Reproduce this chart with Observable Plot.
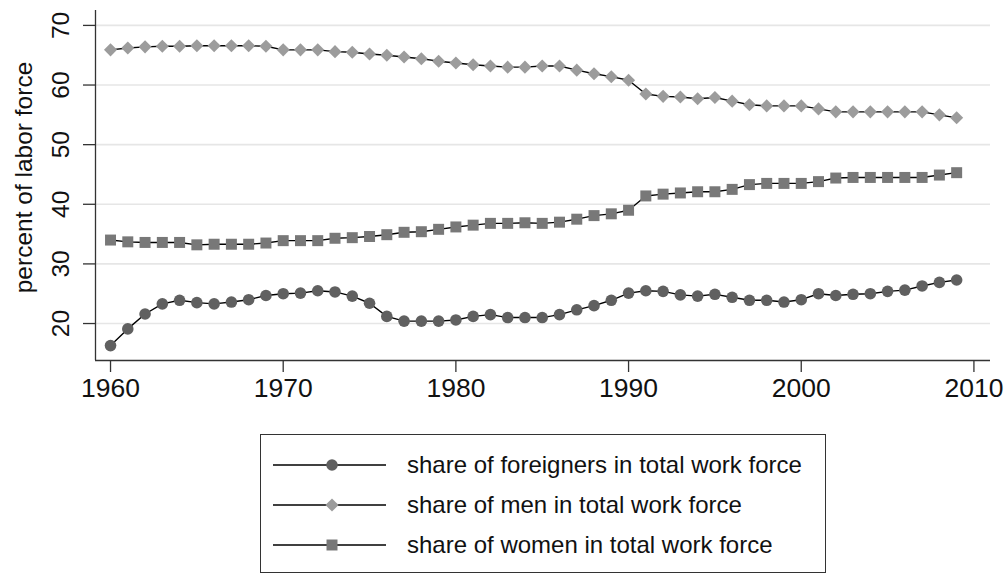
<!DOCTYPE html>
<html>
<head>
<meta charset="utf-8">
<script src="https://cdn.jsdelivr.net/npm/d3@7"></script>
<script src="https://cdn.jsdelivr.net/npm/@observablehq/plot@0.6"></script>
<style>
  html, body { margin: 0; padding: 0; background: #fff; }
  #wrap { position: relative; width: 1004px; height: 574px; overflow: hidden; font-family: "Liberation Sans", Arial, Helvetica, sans-serif; }
  #chart { position: absolute; left: 0; top: 0; }
  #legend { position: absolute; left: 260px; top: 434px; width: 564px; height: 137px; border: 1px solid #333; box-sizing: content-box; }
  .row { position: absolute; left: 0; height: 40px; width: 100%; }
  .row svg { position: absolute; left: 0; top: 0; }
  .row span { position: absolute; left: 146px; top: 0; line-height: 40px; font-size: 24px; color: #111; white-space: nowrap; }
</style>
</head>
<body>
<div id="wrap">
  <div id="chart"></div>
  <div id="legend"></div>
</div>
<script>
const years = d3.range(1960, 2010);
const foreigners = [16.3, 19.1, 21.6, 23.3, 23.9, 23.5, 23.3, 23.6, 24.0, 24.7,
  25.0, 25.1, 25.5, 25.3, 24.6, 23.4, 21.2, 20.4, 20.4, 20.4,
  20.6, 21.2, 21.5, 21.0, 21.0, 21.0, 21.5, 22.3, 23.0, 23.9,
  25.1, 25.5, 25.4, 24.8, 24.6, 24.9, 24.4, 23.9, 23.9, 23.6,
  24.0, 25.0, 24.7, 24.9, 25.0, 25.4, 25.6, 26.3, 26.9, 27.3];
const men = [65.9, 66.2, 66.4, 66.5, 66.5, 66.6, 66.6, 66.6, 66.6, 66.5,
  65.9, 65.9, 65.9, 65.6, 65.5, 65.2, 65.0, 64.7, 64.4, 64.0,
  63.7, 63.4, 63.2, 63.0, 63.0, 63.2, 63.2, 62.5, 61.9, 61.4,
  60.8, 58.5, 58.1, 58.0, 57.7, 57.9, 57.3, 56.7, 56.5, 56.5,
  56.5, 56.0, 55.5, 55.5, 55.5, 55.5, 55.5, 55.5, 55.0, 54.5];
const women = [34.0, 33.7, 33.6, 33.6, 33.6, 33.2, 33.3, 33.3, 33.3, 33.5,
  33.9, 33.9, 33.9, 34.3, 34.4, 34.6, 34.9, 35.3, 35.4, 35.8,
  36.2, 36.5, 36.8, 36.8, 36.9, 36.8, 37.0, 37.5, 38.1, 38.4,
  39.0, 41.4, 41.7, 41.9, 42.1, 42.1, 42.5, 43.3, 43.5, 43.5,
  43.5, 43.8, 44.4, 44.5, 44.5, 44.5, 44.5, 44.5, 44.9, 45.3];
const seriesNames = ["share of foreigners in total work force", "share of men in total work force", "share of women in total work force"];
const xTicks = [1960, 1970, 1980, 1990, 2000, 2010];
const yTicks = [20, 30, 40, 50, 60, 70];
const yLabel = "percent of labor force";

const seriesStyle = [
  {symbol: "circle", fill: "#606060", r: 5.8},
  {symbol: "diamond2", fill: "#9c9c9c", r: 5.9},
  {symbol: "square", fill: "#787878", r: 6.2}
];
const allValues = [foreigners, men, women];
const rows = [];
allValues.forEach((vals, i) => vals.forEach((v, j) => rows.push({year: years[j], value: v, series: seriesNames[i]})));

const xDomain = [1959.13, 2010.96];
const yDomain = [13.8, 72.5];

const marks = [
  Plot.ruleY(yTicks, {stroke: "#e6e6e6", strokeWidth: 1.6}),
  Plot.ruleX([xDomain[0]], {stroke: "#333", strokeWidth: 1.3}),
  Plot.ruleY([yDomain[0]], {stroke: "#333", strokeWidth: 1.3}),
  Plot.axisX(xTicks, {tickSize: 12, stroke: "#333", strokeWidth: 1.3, tickFormat: () => "", label: null}),
  Plot.text(xTicks, {x: d => d, frameAnchor: "bottom", text: d => String(d), dy: 18, fontSize: 26.5, fill: "#111", lineAnchor: "top", textAnchor: "middle"}),
  Plot.axisY(yTicks, {tickSize: 12, stroke: "#333", strokeWidth: 1.3, tickFormat: () => "", label: null}),
  Plot.text(yTicks, {x: xDomain[0], y: d => d, text: d => String(d), rotate: -90, dx: -34, fontSize: 24.5, fill: "#111", lineAnchor: "middle", textAnchor: "middle"}),
  Plot.text([yLabel], {frameAnchor: "left", text: d => d, rotate: -90, dx: -71, dy: -8, fontSize: 24.5, fill: "#111", lineAnchor: "middle", textAnchor: "middle"})
];
seriesNames.forEach((name, i) => {
  const data = rows.filter(d => d.series === name);
  marks.push(Plot.line(data, {x: "year", y: "value", stroke: "#000", strokeWidth: 1.4}));
});
seriesNames.forEach((name, i) => {
  const data = rows.filter(d => d.series === name);
  const s = seriesStyle[i];
  marks.push(Plot.dot(data, {x: "year", y: "value", symbol: s.symbol, fill: s.fill, stroke: "none", r: s.r}));
});

const chart = Plot.plot({
  width: 1004,
  height: 420,
  marginTop: 10,
  marginBottom: 60,
  marginLeft: 95,
  marginRight: 14,
  style: {fontFamily: "'Liberation Sans', Arial, Helvetica, sans-serif", background: "white", overflow: "visible"},
  x: {domain: xDomain},
  y: {domain: yDomain},
  marks
});
document.getElementById("chart").appendChild(chart);

// legend
const legend = document.getElementById("legend");
seriesNames.forEach((name, i) => {
  const s = seriesStyle[i];
  const row = document.createElement("div");
  row.className = "row";
  row.style.top = (10 + i * 40) + "px";
  const svg = d3.create("svg").attr("width", 140).attr("height", 40);
  svg.append("line").attr("x1", 12).attr("x2", 125).attr("y1", 20).attr("y2", 20).attr("stroke", "#000").attr("stroke-width", 1.4);
  const sym = s.symbol === "circle" ? d3.symbolCircle : s.symbol === "square" ? d3.symbolSquare : d3.symbolDiamond2;
  svg.append("path").attr("d", d3.symbol(sym, Math.PI * s.r * s.r)()).attr("transform", "translate(71,20)").attr("fill", s.fill);
  row.appendChild(svg.node());
  const span = document.createElement("span");
  span.textContent = name;
  row.appendChild(span);
  legend.appendChild(row);
});
</script>
</body>
</html>
